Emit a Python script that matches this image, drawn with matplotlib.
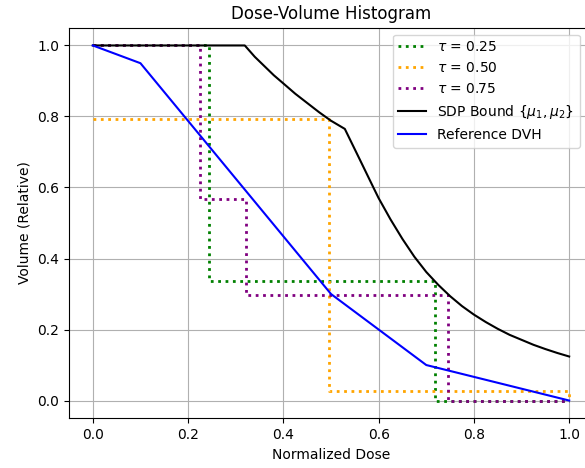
import numpy as np
import matplotlib
matplotlib.use("Agg")
import matplotlib.pyplot as plt

# step DVHs for each tau (where='post')
tau_labels = [r'$\tau$ = 0.25', r'$\tau$ = 0.50', r'$\tau$ = 0.75']
tau_colors = ['green', 'orange', 'purple']
tau_x = [
    [0.0, 0.244, 0.718, 1.0],
    [0.0, 0.496, 1.0],
    [0.0, 0.225, 0.321, 0.745, 1.0],
]
tau_y = [
    [1.0, 0.336, 0.0, 0.0],
    [0.792, 0.026, 0.0],
    [1.0, 0.567, 0.296, 0.0, 0.0],
]

# SDP bound curve
sdp_x = [0.0, 0.319, 0.34, 0.36, 0.38, 0.4, 0.425, 0.45, 0.475, 0.5, 0.529,
         0.56, 0.589, 0.6, 0.625, 0.65, 0.675, 0.7, 0.725, 0.75, 0.775, 0.8,
         0.825, 0.85, 0.875, 0.9, 0.925, 0.95, 0.975, 1.0]
sdp_y = [1.0, 1.0, 0.968, 0.942, 0.916, 0.893, 0.864, 0.838, 0.812, 0.788, 0.765,
         0.68, 0.60, 0.57, 0.51, 0.455, 0.405, 0.362, 0.326, 0.294, 0.266, 0.242,
         0.221, 0.202, 0.185, 0.171, 0.157, 0.145, 0.134, 0.124]

# reference DVH
ref_x = [0.0, 0.1, 0.5, 0.7, 1.0]
ref_y = [1.0, 0.95, 0.30, 0.10, 0.0]

fig = plt.figure(figsize=(5.85, 4.68), dpi=100)
ax = fig.add_axes([69/585, 1 - 418.3/468, (593 - 69)/585, (418.3 - 27.7)/468])

for xs, ys, c, lab in zip(tau_x, tau_y, tau_colors, tau_labels):
    ax.step(xs, ys, where='post', linestyle=':', linewidth=2, color=c, label=lab)

ax.plot(sdp_x, sdp_y, color='black', linewidth=1.5, label=r'SDP Bound $\{\mu_1, \mu_2\}$')
ax.plot(ref_x, ref_y, color='blue', linewidth=1.5, label='Reference DVH')

ax.set_xticks(np.arange(0, 1.01, 0.2))
ax.set_yticks(np.arange(0, 1.01, 0.2))
ax.set_xlabel('Normalized Dose')
ax.set_ylabel('Volume (Relative)')
ax.set_title('Dose-Volume Histogram')
ax.grid(True)
ax.legend(loc='upper right', bbox_to_anchor=(0.988, 1.0))

plt.savefig('out.png', dpi=100)
